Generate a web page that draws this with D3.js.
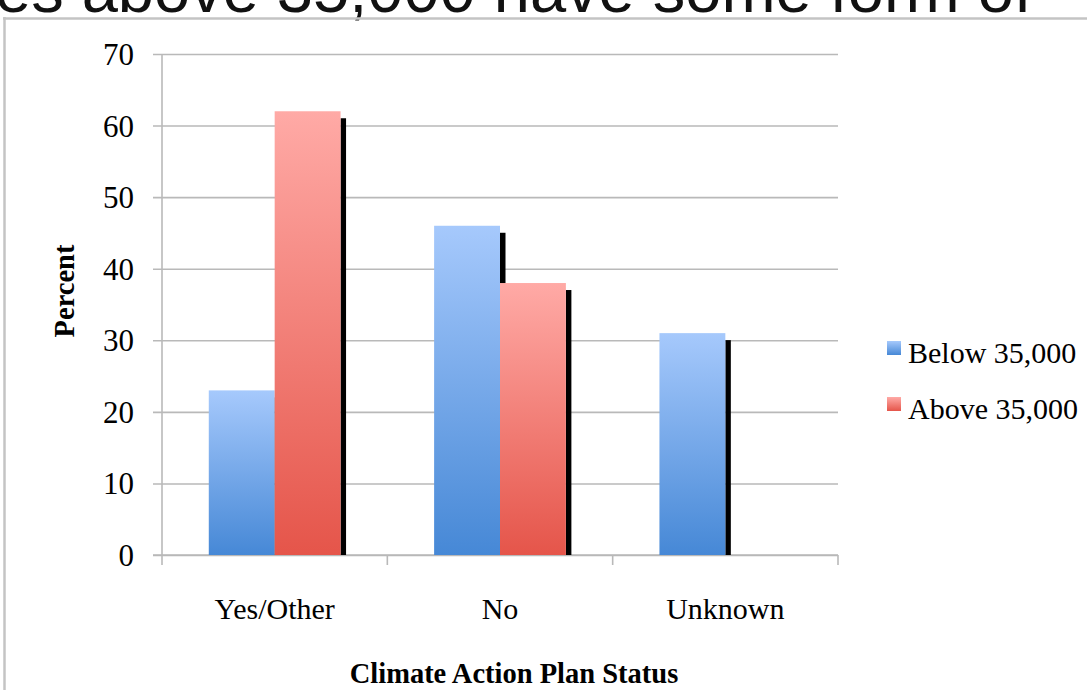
<!DOCTYPE html>
<html>
<head>
<meta charset="utf-8">
<script src="https://cdn.jsdelivr.net/npm/d3@7"></script>
<style>
  html, body { margin: 0; padding: 0; background: #fff; overflow: hidden; }
  svg { display: block; }
</style>
</head>
<body>
<svg id="chart" width="1087" height="690"></svg>
<script>
// Climate action plan status by city population
const categories = ["Yes/Other", "No", "Unknown"];
const seriesNames = ["Below 35,000", "Above 35,000"];
const below35k = [23, 46, 31];
const above35k = [62, 38, 0];
const yTicks = [0, 10, 20, 30, 40, 50, 60, 70];

const svg = d3.select("#chart");
const W = 1087, H = 690;

// plot area
const x0 = 162, x1 = 838, yTop = 54, yBase = 555;

const x = d3.scaleBand().domain(categories).range([x0, x1]).paddingInner(0).paddingOuter(0);
const xs = d3.scaleBand().domain(seriesNames).range([0, x.bandwidth()]).paddingInner(0).paddingOuter(0.71);
const y = d3.scaleLinear().domain([0, 70]).range([yBase, yTop]);

// gradients
const defs = svg.append("defs");
function grad(id, top, bottom) {
  const g = defs.append("linearGradient").attr("id", id)
    .attr("x1", 0).attr("y1", 0).attr("x2", 0).attr("y2", 1);
  g.append("stop").attr("offset", "0%").attr("stop-color", top);
  g.append("stop").attr("offset", "100%").attr("stop-color", bottom);
}
grad("gBlue", "#a6c9fc", "#4688d6");
grad("gRed", "#ffaaa6", "#e5554a");
const fills = { "Below 35,000": "url(#gBlue)", "Above 35,000": "url(#gRed)" };

const serif = "Liberation Serif, Times New Roman, serif";

// page text above the chart frame
svg.append("text")
  .attr("x", -5).attr("y", 12)
  .attr("font-family", "Liberation Sans, Arial, sans-serif")
  .attr("font-size", 65)
  .attr("fill", "#111")
  .text("es above 35,000 have some form of");

// chart frame
svg.append("line").attr("x1", 3).attr("x2", W).attr("y1", 18.5).attr("y2", 18.5)
  .attr("stroke", "#c4c4c4").attr("stroke-width", 2.5);
svg.append("line").attr("x1", 4.5).attr("x2", 4.5).attr("y1", 17).attr("y2", H)
  .attr("stroke", "#c4c4c4").attr("stroke-width", 2.5);

// horizontal gridlines with ticks
const gy = svg.append("g").attr("transform", `translate(${x0},0)`)
  .call(d3.axisLeft(y).tickValues(yTicks).tickSize(-(x1 - x0)).tickFormat(""));
gy.select(".domain").remove();
gy.selectAll(".tick line").attr("stroke", "#b9b9b9").attr("stroke-width", 1.6)
  .attr("x1", -9);

// y axis line
svg.append("line").attr("x1", x0).attr("x2", x0).attr("y1", yTop).attr("y2", yBase)
  .attr("stroke", "#b9b9b9").attr("stroke-width", 1.6);

// y tick labels
svg.append("g").selectAll("text").data(yTicks).join("text")
  .attr("x", 134).attr("y", d => y(d) + 11)
  .attr("text-anchor", "end")
  .attr("font-family", serif)
  .attr("font-size", 31)
  .attr("fill", "#000")
  .text(d => d);

// x axis baseline with category separators
svg.append("line").attr("x1", x0 - 9).attr("x2", x1).attr("y1", yBase).attr("y2", yBase)
  .attr("stroke", "#b9b9b9").attr("stroke-width", 1.6);
const seps = categories.map(c => x(c)).concat([x1]);
svg.append("g").selectAll("line").data(seps).join("line")
  .attr("x1", d => d).attr("x2", d => d).attr("y1", yBase).attr("y2", yBase + 10)
  .attr("stroke", "#b9b9b9").attr("stroke-width", 1.6);

// bars with drop shadows
const rows = [];
categories.forEach((c, i) => {
  rows.push({ cat: c, s: seriesNames[0], v: below35k[i] });
  rows.push({ cat: c, s: seriesNames[1], v: above35k[i] });
});
const barRows = rows.filter(d => d.v > 0);
const bars = svg.append("g");
barRows.forEach(d => {
  const bx = x(d.cat) + xs(d.s);
  const bw = xs.bandwidth();
  bars.append("rect")
    .attr("x", bx + bw).attr("y", y(d.v) + 7)
    .attr("width", 5.5).attr("height", yBase - y(d.v) - 7)
    .attr("fill", "#000");
  bars.append("rect")
    .attr("x", bx).attr("y", y(d.v))
    .attr("width", bw).attr("height", yBase - y(d.v))
    .attr("fill", fills[d.s]);
});

// category labels
svg.append("g").selectAll("text").data(categories).join("text")
  .attr("x", d => x(d) + x.bandwidth() / 2).attr("y", 619)
  .attr("text-anchor", "middle")
  .attr("font-family", serif)
  .attr("font-size", 30)
  .attr("fill", "#000")
  .text(d => d);

// axis titles
svg.append("text")
  .attr("x", 514).attr("y", 683)
  .attr("text-anchor", "middle")
  .attr("font-family", serif)
  .attr("font-weight", "bold")
  .attr("font-size", 28.5)
  .attr("fill", "#000")
  .text("Climate Action Plan Status");

svg.append("text")
  .attr("transform", "translate(74,291) rotate(-90)")
  .attr("text-anchor", "middle")
  .attr("font-family", serif)
  .attr("font-weight", "bold")
  .attr("font-size", 28.5)
  .attr("fill", "#000")
  .text("Percent");

// legend
const leg = svg.append("g").selectAll("g").data(seriesNames).join("g")
  .attr("transform", (d, i) => `translate(887,${341 + i * 56})`);
leg.append("rect").attr("width", 14).attr("height", 14).attr("fill", d => fills[d]);
leg.append("text").attr("x", 21).attr("y", 22)
  .attr("font-family", serif)
  .attr("font-size", 30)
  .attr("fill", "#000")
  .text(d => d);
</script>
</body>
</html>
